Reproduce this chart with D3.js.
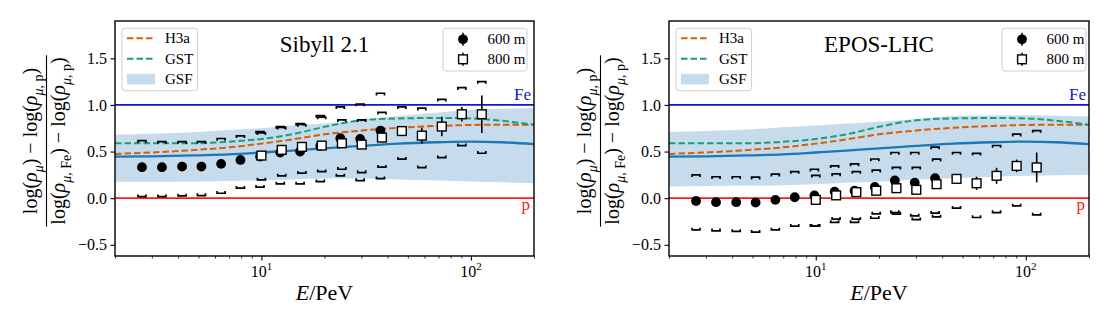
<!DOCTYPE html>
<html>
<head>
<meta charset="utf-8">
<script src="https://cdn.jsdelivr.net/npm/d3@7"></script>
<style>
  html, body { margin: 0; padding: 0; background: #fff; }
</style>
</head>
<body>
<svg id="chart" width="1110" height="325"></svg>
<script>
// composition model curves, sampled in E/PeV
const modelE = [2, 3, 5, 7, 10, 14, 20, 30, 45, 70, 100, 140, 200];
const h3a = [0.475, 0.49, 0.52, 0.545, 0.585, 0.63, 0.685, 0.725, 0.755, 0.775, 0.785, 0.788, 0.786];
const gst = [0.59, 0.588, 0.59, 0.605, 0.635, 0.685, 0.765, 0.835, 0.855, 0.86, 0.855, 0.83, 0.787];
const gsfMean = [0.445, 0.448, 0.46, 0.47, 0.49, 0.51, 0.535, 0.56, 0.585, 0.6, 0.607, 0.6, 0.58];

// GSF uncertainty band for each hadronic model
const gsfHiSib = [0.68, 0.69, 0.71, 0.73, 0.75, 0.78, 0.8, 0.84, 0.88, 0.92, 0.945, 0.96, 0.965];
const gsfLoSib = [0.175, 0.175, 0.18, 0.185, 0.19, 0.2, 0.21, 0.21, 0.2, 0.19, 0.18, 0.17, 0.16];
const gsfHiEpos = [0.71, 0.72, 0.74, 0.76, 0.78, 0.8, 0.82, 0.85, 0.88, 0.89, 0.89, 0.885, 0.875];
const gsfLoEpos = [0.125, 0.13, 0.135, 0.14, 0.15, 0.165, 0.18, 0.2, 0.215, 0.23, 0.24, 0.245, 0.25];

// energy bins (E/PeV) of the two detector distances
const e600 = [2.69, 3.35, 4.18, 5.17, 6.42, 7.94, 9.85, 12.3, 15.3, 19.1, 23.8, 29.6, 37.0];
const e800 = [10.0, 12.5, 15.6, 19.4, 24.2, 30.1, 37.6, 46.8, 58.3, 72.6, 90.5, 112.7];

// Sibyll 2.1
const sib600 = [0.332, 0.332, 0.339, 0.339, 0.368, 0.41, 0.446, 0.489, 0.5, 0.56, 0.643, 0.636, 0.725];
const sib600Err = [0.01, 0.01, 0.01, 0.01, 0.01, 0.01, 0.01, 0.01, 0.01, 0.01, 0.015, 0.015, 0.02];
const sib600SysHi = [0.617, 0.607, 0.607, 0.607, 0.64, 0.668, 0.714, 0.768, 0.8, 0.885, 0.98, 1.01, 1.125];
const sib600SysLo = [0.017, 0.017, 0.025, 0.028, 0.053, 0.107, 0.118, 0.153, 0.153, 0.178, 0.239, 0.189, 0.21];
const sib800 = [0.457, 0.518, 0.55, 0.564, 0.589, 0.575, 0.65, 0.72, 0.671, 0.768, 0.9, 0.9];
const sib800Err = [0.02, 0.02, 0.02, 0.02, 0.02, 0.03, 0.04, 0.04, 0.084, 0.104, 0.077, 0.2];
const sib800SysHi = [0.7, 0.76, 0.79, 0.87, 0.84, 0.84, 0.92, 0.98, 0.965, 1.06, 1.185, 1.25];
const sib800SysLo = [0.196, 0.239, 0.268, 0.285, 0.31, 0.275, 0.332, 0.418, 0.328, 0.435, 0.564, 0.482];

// EPOS-LHC
const epos600 = [-0.03, -0.043, -0.043, -0.047, -0.018, 0.01, 0.03, 0.07, 0.08, 0.12, 0.19, 0.167, 0.214];
const epos600Err = [0.01, 0.01, 0.01, 0.01, 0.01, 0.01, 0.01, 0.01, 0.01, 0.01, 0.015, 0.015, 0.02];
const epos600SysHi = [0.25, 0.23, 0.23, 0.225, 0.257, 0.285, 0.31, 0.346, 0.367, 0.42, 0.49, 0.49, 0.547];
const epos600SysLo = [-0.34, -0.35, -0.357, -0.365, -0.34, -0.3, -0.3, -0.26, -0.26, -0.215, -0.154, -0.19, -0.16];
const epos800 = [-0.018, 0.03, 0.065, 0.08, 0.107, 0.09, 0.15, 0.207, 0.16, 0.24, 0.346, 0.33];
const epos800Err = [0.02, 0.02, 0.02, 0.02, 0.02, 0.02, 0.03, 0.03, 0.07, 0.086, 0.068, 0.16];
const epos800SysHi = [0.245, 0.26, 0.285, 0.3, 0.33, 0.33, 0.418, 0.49, 0.48, 0.565, 0.686, 0.725];
const epos800SysLo = [-0.3, -0.225, -0.225, -0.168, -0.17, -0.23, -0.2, -0.107, -0.207, -0.154, -0.083, -0.18];

const yTicks = [-0.5, 0, 0.5, 1, 1.5];
const xMajor = [10, 100];
const xMinor = [2, 3, 4, 5, 6, 7, 8, 9, 20, 30, 40, 50, 60, 70, 80, 90, 200];
const modelNames = ["H3a", "GST", "GSF"];
const distNames = ["600 m", "800 m"];

const colH3a = "#d95f02", colGst = "#1b9e77", colGsf = "#1f77b4", colBand = "#c6dcec";
const colFe = "#1414d2", colP = "#ff1a1a";
const serif = '"Liberation Serif", "Times New Roman", "DejaVu Serif", serif';

const svg = d3.select("#chart");
const plotTop = 21, plotBottom = 256;

const panels = [
  {
    title: "Sibyll 2.1", x0: 115, x1: 534, legendInset: 7, clip: "clipA",
    bandHi: gsfHiSib, bandLo: gsfLoSib,
    d600: { E: e600, v: sib600, err: sib600Err, hi: sib600SysHi, lo: sib600SysLo },
    d800: { E: e800, v: sib800, err: sib800Err, hi: sib800SysHi, lo: sib800SysLo },
    ylabelX: 46.5
  },
  {
    title: "EPOS-LHC", x0: 669, x1: 1089, legendInset: 3, clip: "clipB",
    bandHi: gsfHiEpos, bandLo: gsfLoEpos,
    d600: { E: e600, v: epos600, err: epos600Err, hi: epos600SysHi, lo: epos600SysLo },
    d800: { E: e800, v: epos800, err: epos800Err, hi: epos800SysHi, lo: epos800SysLo },
    ylabelX: 600.5
  }
];

// writes a mathtext-like label made of normal / italic / subscript pieces
function mathText(g, parts, size) {
  const t = g.append("text").attr("text-anchor", "middle").style("font-size", size + "px");
  let shift = 0;
  parts.forEach(([s, kind]) => {
    const sub = kind.startsWith("sub");
    const target = sub ? size * 0.3 : 0;
    t.append("tspan")
      .attr("dy", target - shift)
      .style("font-size", sub ? (size * 0.7) + "px" : null)
      .style("font-style", kind.endsWith("i") ? "italic" : "normal")
      .text(s);
    shift = target;
  });
  return t;
}

function capPath(x, yv, dir) {
  // short bracket: horizontal bar with little ends pointing towards the data point
  return `M${x - 4},${yv + dir * 2.2}V${yv}H${x + 4}V${yv + dir * 2.2}`;
}

panels.forEach(p => {
  const x = d3.scaleLog().domain([2, 200]).range([p.x0, p.x1]);
  const y = d3.scaleLinear().domain([-0.62, 1.9]).range([plotBottom, plotTop]);

  svg.append("clipPath").attr("id", p.clip)
    .append("rect").attr("x", p.x0).attr("y", plotTop)
    .attr("width", p.x1 - p.x0).attr("height", plotBottom - plotTop);

  const plot = svg.append("g").attr("clip-path", `url(#${p.clip})`);

  // GSF band
  const band = modelE.map((e, i) => [e, p.bandLo[i], p.bandHi[i]]);
  plot.append("path").datum(band)
    .attr("fill", colBand)
    .attr("d", d3.area().x(d => x(d[0])).y0(d => y(d[1])).y1(d => y(d[2])).curve(d3.curveMonotoneX));

  // pure iron and proton references
  plot.append("line").attr("x1", p.x0).attr("x2", p.x1).attr("y1", y(1)).attr("y2", y(1))
    .attr("stroke", colFe).attr("stroke-width", 1.8);
  plot.append("line").attr("x1", p.x0).attr("x2", p.x1).attr("y1", y(0)).attr("y2", y(0))
    .attr("stroke", colP).attr("stroke-width", 1.8);

  const line = d3.line().x(d => x(d[0])).y(d => y(d[1])).curve(d3.curveMonotoneX);
  plot.append("path").datum(modelE.map((e, i) => [e, gsfMean[i]]))
    .attr("fill", "none").attr("stroke", colGsf).attr("stroke-width", 2.3).attr("d", line);
  plot.append("path").datum(modelE.map((e, i) => [e, h3a[i]]))
    .attr("fill", "none").attr("stroke", colH3a).attr("stroke-width", 2)
    .attr("stroke-dasharray", "6.5,3").attr("d", line);
  plot.append("path").datum(modelE.map((e, i) => [e, gst[i]]))
    .attr("fill", "none").attr("stroke", colGst).attr("stroke-width", 2)
    .attr("stroke-dasharray", "6.5,3").attr("d", line);

  // data points with systematic brackets and statistical error bars
  [p.d600, p.d800].forEach((s, k) => {
    const pts = s.E.map((e, i) => ({ e, v: s.v[i], err: s.err[i], hi: s.hi[i], lo: s.lo[i] }));
    const g = svg.append("g");
    g.selectAll(".cap-hi").data(pts).join("path")
      .attr("d", d => capPath(x(d.e), y(d.hi), 1))
      .attr("fill", "none").attr("stroke", "#000").attr("stroke-width", 1.7);
    g.selectAll(".cap-lo").data(pts).join("path")
      .attr("d", d => capPath(x(d.e), y(d.lo), -1))
      .attr("fill", "none").attr("stroke", "#000").attr("stroke-width", 1.7);
    g.selectAll(".err").data(pts).join("line")
      .attr("x1", d => x(d.e)).attr("x2", d => x(d.e))
      .attr("y1", d => y(d.v - d.err)).attr("y2", d => y(d.v + d.err))
      .attr("stroke", "#000").attr("stroke-width", 1.6);
    if (k === 0) {
      g.selectAll("circle").data(pts).join("circle")
        .attr("cx", d => x(d.e)).attr("cy", d => y(d.v)).attr("r", 4.9)
        .attr("fill", "#000");
    } else {
      g.selectAll("rect").data(pts).join("rect")
        .attr("x", d => x(d.e) - 4.4).attr("y", d => y(d.v) - 4.4)
        .attr("width", 8.8).attr("height", 8.8)
        .attr("fill", "#fff").attr("stroke", "#000").attr("stroke-width", 1.4);
    }
  });

  // Fe / p tags
  svg.append("text").attr("x", p.x1 - 3).attr("y", y(1) - 5).attr("text-anchor", "end")
    .style("font-size", "17px").style("fill", colFe).text("Fe");
  svg.append("text").attr("x", p.x1 - 4).attr("y", y(0) + 12).attr("text-anchor", "end")
    .style("font-size", "17px").style("fill", colP).text("p");

  // axes
  const ya = svg.append("g").attr("transform", `translate(${p.x0},0)`)
    .call(d3.axisLeft(y).tickValues(yTicks).tickFormat(d3.format(".1f")).tickSize(4.5).tickPadding(3.5));
  ya.select(".domain").remove();
  ya.selectAll("line").attr("stroke-width", 1.1);
  ya.selectAll("text").style("font-size", "16px");

  const xa = svg.append("g").attr("transform", `translate(0,${plotBottom})`)
    .call(d3.axisBottom(x).tickValues(xMajor).tickFormat("").tickSize(4.5));
  xa.select(".domain").remove();
  xa.selectAll("line").attr("stroke-width", 1.1);
  const xm = svg.append("g").attr("transform", `translate(0,${plotBottom})`)
    .call(d3.axisBottom(x).tickValues(xMinor).tickFormat("").tickSize(2.5));
  xm.select(".domain").remove();
  xm.selectAll("line").attr("stroke-width", 0.8);

  xMajor.forEach(v => {
    const t = svg.append("text").attr("x", x(v)).attr("y", 276.5)
      .attr("text-anchor", "middle").style("font-size", "16px");
    t.append("tspan").text("10");
    t.append("tspan").attr("dy", -6.5).style("font-size", "11px").text(Math.round(Math.log10(v)));
  });

  // x label
  const xl = svg.append("text").attr("x", (p.x0 + p.x1) / 2).attr("y", 299.5)
    .attr("text-anchor", "middle").style("font-size", "22px");
  xl.append("tspan").style("font-style", "italic").text("E");
  xl.append("tspan").text("/PeV");

  // y label as a stacked fraction
  const yl = svg.append("g").attr("transform", `translate(${p.ylabelX},141) rotate(-90)`);
  const num = mathText(yl, [["log(", "n"], ["ρ", "i"], ["μ", "subi"], [")", "n"], [" − ", "n"],
    ["log(", "n"], ["ρ", "i"], ["μ, ", "subi"], ["p", "sub"], [")", "n"]], 20).attr("y", -9.5);
  const den = mathText(yl, [["log(", "n"], ["ρ", "i"], ["μ, ", "subi"], ["Fe", "sub"], [")", "n"], [" − ", "n"],
    ["log(", "n"], ["ρ", "i"], ["μ, ", "subi"], ["p", "sub"], [")", "n"]], 20).attr("y", 18);
  num.style("font-family", serif);
  den.style("font-family", serif);
  const barLen = Math.max(num.node().getComputedTextLength(), den.node().getComputedTextLength()) + 4;
  yl.append("line").attr("x1", -barLen / 2).attr("x2", barLen / 2).attr("y1", 0).attr("y2", 0)
    .attr("stroke", "#000").attr("stroke-width", 1.1);

  // frame
  svg.append("rect").attr("x", p.x0).attr("y", plotTop).attr("width", p.x1 - p.x0).attr("height", plotBottom - plotTop)
    .attr("fill", "none").attr("stroke", "#000").attr("stroke-width", 1.4);

  // title
  svg.append("text").attr("x", (p.x0 + p.x1) / 2).attr("y", 52).attr("text-anchor", "middle")
    .style("font-size", "23px").text(p.title);

  // model legend
  const lx = p.x0 + 7, ly = 28.3;
  const lg = svg.append("g");
  lg.append("rect").attr("x", lx).attr("y", ly).attr("width", 75.6).attr("height", 62.4).attr("rx", 3)
    .attr("fill", "#fff").attr("fill-opacity", 0.85).attr("stroke", "#d0d0d0").attr("stroke-width", 1);
  const lcol = [colH3a, colGst];
  modelNames.forEach((name, i) => {
    const cy = ly + 10 + i * 20.4;
    if (i < 2) {
      lg.append("line").attr("x1", lx + 5).attr("x2", lx + 33).attr("y1", cy).attr("y2", cy)
        .attr("stroke", lcol[i]).attr("stroke-width", 2).attr("stroke-dasharray", "6.5,3");
    } else {
      lg.append("rect").attr("x", lx + 5).attr("y", cy - 5.3).attr("width", 28).attr("height", 10.6)
        .attr("fill", colBand);
    }
    lg.append("text").attr("x", lx + 43).attr("y", cy + 5).style("font-size", "15px").text(name);
  });

  // distance legend
  const rx = p.x1 - p.legendInset - 84, ry = 28.3;
  const rg = svg.append("g");
  rg.append("rect").attr("x", rx).attr("y", ry).attr("width", 84).attr("height", 42.7).attr("rx", 3)
    .attr("fill", "#fff").attr("fill-opacity", 0.85).attr("stroke", "#d0d0d0").attr("stroke-width", 1);
  distNames.forEach((name, i) => {
    const cx = rx + 20, cy = ry + 11 + i * 20;
    rg.append("line").attr("x1", cx).attr("x2", cx).attr("y1", cy - 6.5).attr("y2", cy + 6.5)
      .attr("stroke", "#000").attr("stroke-width", 1.5);
    if (i === 0) {
      rg.append("circle").attr("cx", cx).attr("cy", cy).attr("r", 4.9).attr("fill", "#000");
    } else {
      rg.append("rect").attr("x", cx - 4.4).attr("y", cy - 4.4).attr("width", 8.8).attr("height", 8.8)
        .attr("fill", "#fff").attr("stroke", "#000").attr("stroke-width", 1.4);
    }
    rg.append("text").attr("x", rx + 44.5).attr("y", cy + 5).style("font-size", "15px").text(name);
  });
});

// one serif face for every label
svg.selectAll("text").style("font-family", serif).filter(function () {
  return !this.style.fill;
}).style("fill", "#000");
</script>
</body>
</html>
